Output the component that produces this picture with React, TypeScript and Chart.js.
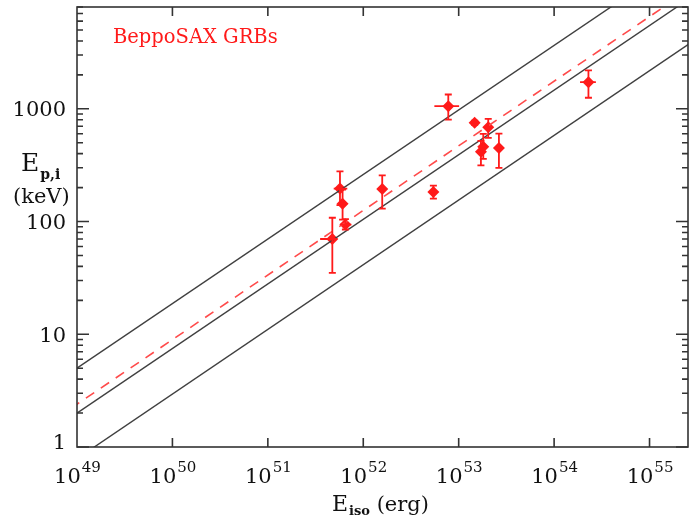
import React, { useEffect, useRef } from 'react';
import { Chart, registerables } from 'chart.js';

Chart.register(...registerables);

// ---- data ----
const grbEiso = [4.74e51, 5.7e51, 6.07e51, 6.5e51, 1.58e52, 5.43e52, 7.78e52, 1.47e53, 1.71e53, 1.81e53, 2.04e53, 2.64e53, 2.29e54];
const grbEisoLow = [3.53e51, 4.9e51, 5.7e51, 5.7e51, 1.5e52, 5.1e52, 5.56e52, 1.4e53, 1.6e53, 1.7e53, 1.92e53, 2.5e53, 1.87e54];
const grbEisoHigh = [5.25e51, 6.8e51, 6.5e51, 7.5e51, 1.68e52, 5.8e52, 1.01e53, 1.55e53, 1.83e53, 1.93e53, 2.17e53, 2.8e53, 2.74e54];
const grbEp = [70, 196, 144, 94, 194, 183, 1055, 751, 415, 460, 686, 450, 1722];
const grbEpLow = [35, 140, 104, 85, 130, 160, 803, 720, 315, 360, 552, 299, 1253];
const grbEpHigh = [108, 279, 192, 105, 257, 208, 1339, 785, 520, 600, 815, 603, 2188];

const lineEiso = [1e48, 1e56];
const upperLineEp = [1.34, 51000];
const centralLineEp = [0.533, 20500];
const lowerLineEp = [0.21, 8150];
const fitLineEp = [0.64, 24600];

const xTickPowers = [49, 50, 51, 52, 53, 54, 55];
const yTickValues = [1, 10, 100, 1000];
const yTickLabels = ['1', '10', '100', '1000'];

const legendLabel = 'BeppoSAX GRBs';

const SERIF = '"DejaVu Serif", serif';
const RED = '#ff1a1a';
const AXIS = '#333333';

const framePlugin = {
  id: 'frame',
  afterDatasetsDraw(chart: any) {
    const { ctx, scales } = chart;
    const x = scales.x;
    const y = scales.y;
    ctx.save();
    ctx.strokeStyle = RED;
    ctx.lineWidth = 1.8;
    for (let i = 0; i < grbEp.length; i++) {
      const px = x.getPixelForValue(grbEiso[i]);
      const py = y.getPixelForValue(grbEp[i]);
      const yl = y.getPixelForValue(grbEpLow[i]);
      const yh = y.getPixelForValue(grbEpHigh[i]);
      const xl = x.getPixelForValue(grbEisoLow[i]);
      const xh = x.getPixelForValue(grbEisoHigh[i]);
      ctx.beginPath();
      ctx.moveTo(px, yl);
      ctx.lineTo(px, yh);
      ctx.moveTo(px - 3.5, yl);
      ctx.lineTo(px + 3.5, yl);
      ctx.moveTo(px - 3.5, yh);
      ctx.lineTo(px + 3.5, yh);
      ctx.moveTo(xl, py);
      ctx.lineTo(xh, py);
      ctx.stroke();
    }
    ctx.restore();
  },
  afterDraw(chart: any) {
    const { ctx, chartArea: a, scales } = chart;
    const x = scales.x;
    const y = scales.y;
    ctx.save();
    ctx.strokeStyle = AXIS;
    ctx.lineWidth = 1.6;
    ctx.strokeRect(a.left, a.top, a.right - a.left, a.bottom - a.top);
    ctx.beginPath();
    for (const p of xTickPowers) {
      const px = x.getPixelForValue(Math.pow(10, p));
      if (px <= a.left + 1 || px >= a.right - 1) continue;
      ctx.moveTo(px, a.bottom);
      ctx.lineTo(px, a.bottom - 9);
      ctx.moveTo(px, a.top);
      ctx.lineTo(px, a.top + 9);
    }
    for (let d = 0; d < 4; d++) {
      for (let m = 1; m <= 9; m++) {
        const v = m * Math.pow(10, d);
        if (v > y.max) continue;
        const py = y.getPixelForValue(v);
        const len = m === 1 ? 12 : 6;
        ctx.moveTo(a.left, py);
        ctx.lineTo(a.left + len, py);
        ctx.moveTo(a.right, py);
        ctx.lineTo(a.right - len, py);
      }
    }
    ctx.stroke();

    ctx.fillStyle = '#111';
    // y tick labels
    ctx.font = `21px ${SERIF}`;
    ctx.textAlign = 'right';
    ctx.textBaseline = 'middle';
    yTickValues.forEach((v, i) => {
      const py = y.getPixelForValue(v);
      ctx.fillText(yTickLabels[i], 66, i === 0 ? py - 3 : py + 2);
    });
    // x tick labels with superscripts
    ctx.textBaseline = 'alphabetic';
    ctx.textAlign = 'left';
    for (const p of xTickPowers) {
      const px = x.getPixelForValue(Math.pow(10, p));
      ctx.font = `21px ${SERIF}`;
      const w1 = ctx.measureText('10').width;
      ctx.font = `15px ${SERIF}`;
      const w2 = ctx.measureText(String(p)).width;
      const start = px - (w1 + w2) / 2;
      ctx.font = `21px ${SERIF}`;
      ctx.fillText('10', start, 483);
      ctx.font = `15px ${SERIF}`;
      ctx.fillText(String(p), start + w1 + 1, 472);
    }
    // x title
    ctx.font = `22px ${SERIF}`;
    let cx = 332;
    ctx.fillText('E', cx, 511);
    cx += ctx.measureText('E').width;
    ctx.font = `bold 13px ${SERIF}`;
    ctx.fillText('iso', cx + 1, 515);
    cx += ctx.measureText('iso').width + 1;
    ctx.font = `21px ${SERIF}`;
    ctx.fillText(' (erg)', cx, 511);
    // y title
    ctx.font = `25px ${SERIF}`;
    ctx.fillText('E', 21, 171);
    const ew = ctx.measureText('E').width;
    ctx.font = `bold 14px ${SERIF}`;
    ctx.fillText('p,i', 21 + ew + 1, 179);
    ctx.font = `21px ${SERIF}`;
    ctx.fillText('(keV)', 13, 203);
    // legend label
    ctx.fillStyle = RED;
    ctx.font = `19.5px ${SERIF}`;
    ctx.fillText(legendLabel, 113, 43);
    ctx.restore();
  },
};

export default function App() {
  const ref = useRef<HTMLCanvasElement>(null);
  useEffect(() => {
    const mkLine = (ys: number[], color: string, width: number, dash: number[] = []) => ({
      type: 'scatter' as const,
      data: lineEiso.map((e, i) => ({ x: e, y: ys[i] })),
      showLine: true,
      borderColor: color,
      borderWidth: width,
      borderDash: dash,
      pointRadius: 0,
      fill: false,
    });
    const chart = new Chart(ref.current as HTMLCanvasElement, {
      type: 'scatter',
      data: {
        datasets: [
          mkLine(upperLineEp, '#404040', 1.4),
          mkLine(centralLineEp, '#404040', 1.4),
          mkLine(lowerLineEp, '#404040', 1.4),
          mkLine(fitLineEp, '#ff4a4a', 1.6, [10, 8]),
          {
            data: grbEiso.map((e, i) => ({ x: e, y: grbEp[i] })),
            pointStyle: 'rectRot',
            pointRadius: 6,
            backgroundColor: RED,
            borderColor: RED,
            borderWidth: 0,
          } as any,
        ],
      },
      options: {
        responsive: false,
        animation: false,
        devicePixelRatio: 1,
        layout: { padding: { top: 7, right: 2, left: 0, bottom: 0 } },
        plugins: { legend: { display: false }, tooltip: { enabled: false } },
        scales: {
          x: {
            type: 'logarithmic',
            min: 1e49,
            max: 2.53e55,
            grid: { display: false },
            border: { display: false },
            ticks: { display: false },
            afterFit: (s: any) => {
              s.height = 74;
            },
          },
          y: {
            type: 'logarithmic',
            min: 1,
            max: 8000,
            grid: { display: false },
            border: { display: false },
            ticks: { display: false },
            afterFit: (s: any) => {
              s.width = 77;
            },
          },
        },
      },
      plugins: [framePlugin],
    } as any);
    return () => chart.destroy();
  }, []);
  return (
    <div style={{ position: 'absolute', left: 0, top: 0, width: 694, height: 521, background: '#fff' }}>
      <canvas ref={ref} width={694} height={521} style={{ display: 'block' }} />
    </div>
  );
}
